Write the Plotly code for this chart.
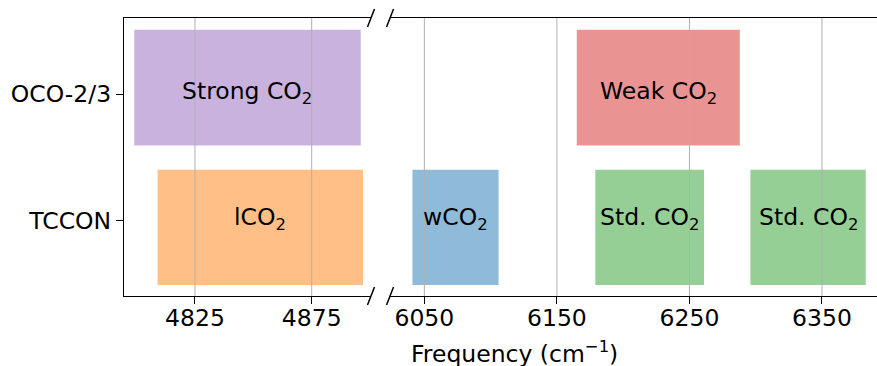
import plotly.graph_objects as go

# ---- data ----
rows = ["TCCON", "OCO-2/3"]            # y categories (bottom -> top)
row_pos = [0, 1]
row_bar_lo = [-0.509, 0.593]           # vertical extent of each row's bars
row_bar_hi = [0.401, 1.509]

band_labels = ["Strong CO<sub>2</sub>", "lCO<sub>2</sub>",
               "wCO<sub>2</sub>", "Weak CO<sub>2</sub>",
               "Std. CO<sub>2</sub>", "Std. CO<sub>2</sub>"]
band_rows = ["OCO-2/3", "TCCON", "TCCON", "OCO-2/3", "TCCON", "TCCON"]
band_start = [4799, 4809, 6041, 6165, 6179, 6296]
band_end = [4896, 4897, 6106, 6288, 6261, 6383]
band_panel = [1, 1, 2, 2, 2, 2]
band_colors = ["rgba(148,103,189,0.5)", "rgba(255,127,14,0.5)",
               "rgba(31,119,180,0.5)", "rgba(214,39,40,0.5)",
               "rgba(44,160,44,0.5)", "rgba(44,160,44,0.5)"]

left_ticks = [4825, 4875]
right_ticks = [6050, 6150, 6250, 6350]
left_range = [4794.6, 4900.4]
right_range = [6024.1, 6391.5]
y_range = [-0.596, 1.601]

W, H = 877, 366
ML, MT, MR = 124, 18, 0
MB = H - 296
left_dom = [0, 0.328]
right_dom = [0.3533, 1.0]
FONT = "DejaVu Sans"
FS = 23.5
GRID = "#b0b0b0"

fig = go.Figure()
rowidx = {r: i for i, r in enumerate(rows)}
annotations = []
for lab, r, s, e, p, c in zip(band_labels, band_rows, band_start, band_end, band_panel, band_colors):
    xa = "x" if p == 1 else "x2"
    ya = "y" if p == 1 else "y2"
    i = rowidx[r]
    lo, hi = row_bar_lo[i], row_bar_hi[i]
    fig.add_trace(go.Bar(
        x=[e - s], base=[s], y=[(lo + hi) / 2], orientation="h", width=hi - lo,
        marker=dict(color=c, line=dict(width=0)), xaxis=xa, yaxis=ya,
        showlegend=False, hoverinfo="skip"))
    annotations.append(dict(x=(s + e) / 2, y=row_pos[i], xref=xa, yref=ya,
                            text=lab, showarrow=False, yshift=2,
                            font=dict(family=FONT, size=FS, color="black"),
                            xanchor="center", yanchor="middle"))

pw = W - ML - MR
ph = H - MT - MB
tx, ty = 514, 352
annotations.append(dict(x=(tx - ML) / pw, y=(MT + ph - ty) / ph, xref="paper", yref="paper",
                        text="Frequency (cm<sup>−1</sup>)", showarrow=False,
                        font=dict(family=FONT, size=FS, color="black"),
                        xanchor="center", yanchor="middle"))

axis_common = dict(showgrid=False, zeroline=False,
                   showline=True, linecolor="black", linewidth=1.3, mirror=True,
                   ticks="outside", ticklen=7, tickwidth=1.3, tickcolor="black",
                   ticklabelstandoff=-6,
                   tickfont=dict(family=FONT, size=FS, color="black"))

fig.update_layout(
    width=W, height=H, margin=dict(l=ML, r=MR, t=MT, b=MB),
    paper_bgcolor="white", plot_bgcolor="white",
    xaxis=dict(domain=left_dom, range=left_range, tickvals=left_ticks,
               ticktext=[str(v) for v in left_ticks], **axis_common),
    xaxis2=dict(domain=right_dom, range=right_range, tickvals=right_ticks,
                ticktext=[str(v) for v in right_ticks], anchor="y2", **axis_common),
    yaxis=dict(range=y_range, tickvals=row_pos, ticktext=rows, showgrid=False,
               zeroline=False, showline=True, linecolor="black", linewidth=1.3,
               ticks="outside", ticklen=7, tickwidth=1.3, tickcolor="black",
               ticklabelstandoff=0,
               tickfont=dict(family=FONT, size=FS, color="black")),
    yaxis2=dict(range=y_range, anchor="x2", showgrid=False, zeroline=False,
                showline=False, showticklabels=False, ticks=""),
    annotations=annotations,
    barmode="overlay",
)

shapes = []
# vertical grid lines drawn above the bars
for xa, ya, ticks in (("x", "y", left_ticks), ("x2", "y2", right_ticks)):
    for t in ticks:
        shapes.append(dict(type="line", xref=xa, yref=ya + " domain", x0=t, x1=t,
                           y0=0, y1=1, layer="above",
                           line=dict(color=GRID, width=1)))
# broken-axis markers
dx = 3.5 / pw
dy = 9 / ph
for xc in (left_dom[1], right_dom[0]):
    for yc in (0, 1):
        shapes.append(dict(type="line", xref="paper", yref="paper",
                           x0=xc - dx, y0=yc - dy, x1=xc + dx, y1=yc + dy,
                           line=dict(color="black", width=1.5)))
fig.update_layout(shapes=shapes)

fig.write_html(
    "out.html",
    config={"displayModeBar": False},
    post_script="document.body.style.margin='0';document.body.style.padding='0';"
                "document.documentElement.style.overflow='hidden';",
)
